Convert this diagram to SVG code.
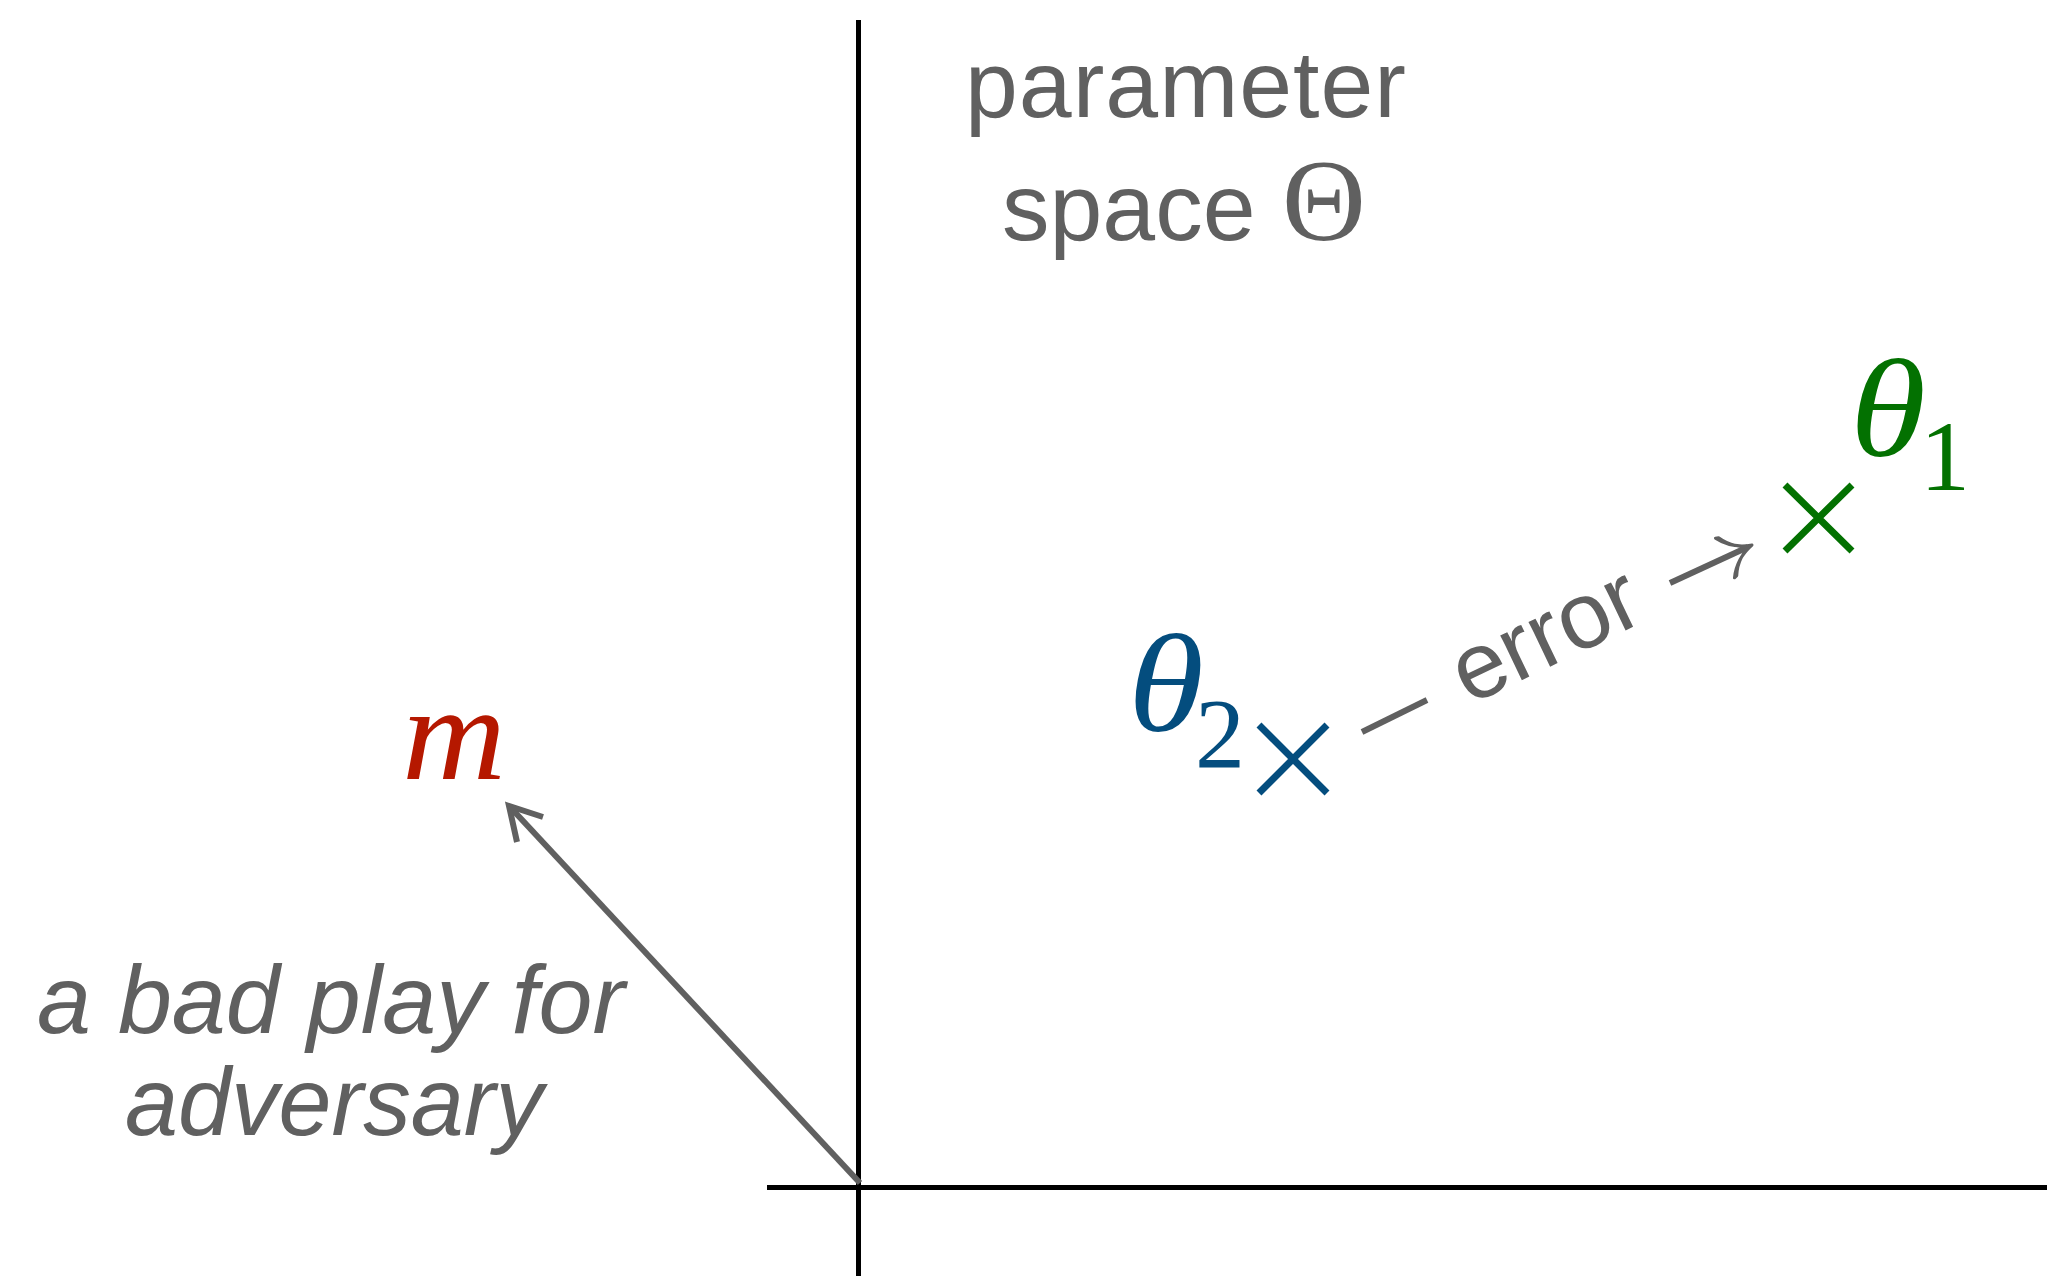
<svg xmlns="http://www.w3.org/2000/svg" width="2047" height="1276" viewBox="0 0 2047 1276">
<style>
.axis{stroke:#000;stroke-width:5;fill:none}
.conn{stroke:#606060;stroke-width:6;fill:none}
.lbl{font-family:"Liberation Sans",Arial,sans-serif;fill:#606060}
.math{font-family:"Liberation Serif","Times New Roman",serif}
</style>
<rect width="2047" height="1276" fill="#fff"/>
<g id="axes">
<line class="axis" x1="858.5" y1="20" x2="858.5" y2="1276"/>
<line class="axis" x1="767" y1="1187.5" x2="2047" y2="1187.5"/>
</g>
<g id="title">
<text class="lbl" font-size="95" x="965" y="117" letter-spacing="1">parameter</text>
<text class="lbl" font-size="95" x="1002" y="240">space <tspan class="math" font-size="116">Θ</tspan></text>
</g>
<g id="theta2">
<path d="M1259,725 L1327,793 M1259,793 L1327,725" stroke="#044d7e" stroke-width="7" fill="none"/>
<text class="math" fill="#044d7e" font-size="140" font-style="italic" x="1128" y="731" textLength="76" lengthAdjust="spacingAndGlyphs">θ</text>
<text class="math" fill="#044d7e" font-size="100" x="1195" y="767">2</text>
</g>
<g id="theta1">
<path d="M1785,485 L1852,551 M1785,551 L1852,485" stroke="#037101" stroke-width="7" fill="none"/>
<text class="math" fill="#037101" font-size="140" font-style="italic" x="1850" y="456" textLength="76" lengthAdjust="spacingAndGlyphs">θ</text>
<text class="math" fill="#037101" font-size="100" x="1920" y="490">1</text>
</g>
<g id="m">
<text class="math" fill="#b51800" font-size="136" font-style="italic" x="402" y="779" textLength="104" lengthAdjust="spacingAndGlyphs">m</text>
</g>
<g id="badplay">
<text class="lbl" font-size="97" font-style="italic" x="37" y="1033">a bad play for</text>
<text class="lbl" font-size="97" font-style="italic" x="125" y="1135" textLength="418" lengthAdjust="spacingAndGlyphs">adversary</text>
</g>
<g id="connectors">
<line class="conn" x1="1362" y1="732" x2="1427" y2="700" stroke-width="7"/>
<line class="conn" x1="1670" y1="583" x2="1748" y2="547" stroke-width="7"/>
<g transform="translate(1752,545) rotate(-25.6)">
<path d="M-30,-22 C-22,-9 -9,-2.5 0,0 C-9,2.5 -22,9 -30,22 L-27,21 C-20,8 -10,3 -4,0 C-10,-3 -20,-8 -27,-21 Z" fill="#606060" stroke="#606060" stroke-width="3" stroke-linejoin="round"/>
</g>
<text class="lbl" font-size="94" text-anchor="middle" transform="translate(1548,641) rotate(-25.6)" y="24">error</text>
<line class="conn" x1="860" y1="1183" x2="511" y2="808"/>
<path class="conn" d="M543,817 L509,806 L517,842" stroke-linejoin="miter"/>
</g>
</svg>
